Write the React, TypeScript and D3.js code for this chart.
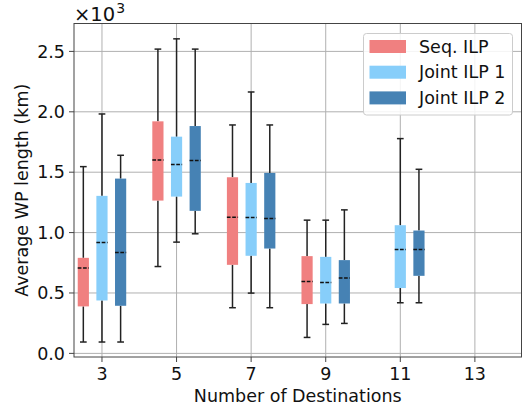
import React from "react";
import * as d3 from "d3";

const categories = [3, 5, 7, 9, 11, 13];
const seriesNames = ["Seq. ILP", "Joint ILP 1", "Joint ILP 2"];
const seriesColors = ["#F08080", "#87CEFA", "#4682B4"];
const seriesOffsets = [-0.5, 0, 0.5];

// values in km, per category: [whiskerLow, q1, median, q3, whiskerHigh]
const seqLow = [94, 719, 378, 132, null, null];
const seqQ1 = [389, 1265, 733, 408, null, null];
const seqMed = [706, 1601, 1128, 595, null, null];
const seqQ3 = [791, 1921, 1458, 805, null, null];
const seqHigh = [1546, 2519, 1891, 1103, null, null];

const j1Low = [94, 921, 499, 240, 419, null];
const j1Q1 = [438, 1298, 808, 413, 541, null];
const j1Med = [918, 1563, 1124, 587, 860, null];
const j1Q3 = [1304, 1794, 1411, 799, 1061, null];
const j1High = [1982, 2604, 2164, 1103, 1778, null];

const j2Low = [94, 990, 378, 248, 419, null];
const j2Q1 = [394, 1180, 868, 413, 642, null];
const j2Med = [835, 1596, 1116, 623, 860, null];
const j2Q3 = [1447, 1882, 1494, 772, 1017, null];
const j2High = [1640, 2519, 1891, 1188, 1524, null];

const yTicks = [0, 500, 1000, 1500, 2000, 2500];
const yTickLabels = ["0.0", "0.5", "1.0", "1.5", "2.0", "2.5"];
const xTickLabels = ["3", "5", "7", "9", "11", "13"];

const seriesData = [
  [seqLow, seqQ1, seqMed, seqQ3, seqHigh],
  [j1Low, j1Q1, j1Med, j1Q3, j1High],
  [j2Low, j2Q1, j2Med, j2Q3, j2High],
];

const W = 524;
const H = 410;
const margin = { left: 74, right: 2.5, top: 23.5, bottom: 53 };
const font = "DejaVu Sans, sans-serif";
const fs = 17.5;

export default function App() {
  const x = d3.scaleLinear().domain([2.25, 14.25]).range([margin.left, W - margin.right]);
  const y = d3.scaleLinear().domain([-30, 2731]).range([H - margin.bottom, margin.top]);
  const boxW = 0.3;
  const capW = 0.18;
  const pxBox = x(boxW) - x(0);
  const pxCap = x(capW) - x(0);

  const x0 = margin.left;
  const x1 = W - margin.right;
  const y0 = H - margin.bottom;
  const y1 = margin.top;

  return (
    <svg width={W} height={H} style={{ position: "absolute", left: 0, top: 0, background: "#fff" }} fontFamily={font}>
      <rect x={0} y={0} width={W} height={H} fill="#fff" />
      {/* grid */}
      {yTicks.map((t) => (
        <line key={"gy" + t} x1={x0} x2={x1} y1={y(t)} y2={y(t)} stroke="#b0b0b0" strokeWidth={1} />
      ))}
      {categories.map((c) => (
        <line key={"gx" + c} x1={x(c)} x2={x(c)} y1={y0} y2={y1} stroke="#b0b0b0" strokeWidth={1} />
      ))}
      {/* boxes */}
      {seriesData.map((s, si) =>
        categories.map((c, ci) => {
          const [lo, q1, med, q3, hi] = s.map((a) => a[ci]);
          if (lo == null) return null;
          const cx = x(c + seriesOffsets[si]);
          return (
            <g key={"b" + si + "-" + ci}>
              <line x1={cx} x2={cx} y1={y(lo)} y2={y(q1)} stroke="#222" strokeWidth={1.5} />
              <line x1={cx} x2={cx} y1={y(q3)} y2={y(hi)} stroke="#222" strokeWidth={1.5} />
              <line x1={cx - pxCap / 2} x2={cx + pxCap / 2} y1={y(lo)} y2={y(lo)} stroke="#222" strokeWidth={1.5} />
              <line x1={cx - pxCap / 2} x2={cx + pxCap / 2} y1={y(hi)} y2={y(hi)} stroke="#222" strokeWidth={1.5} />
              <rect x={cx - pxBox / 2} y={y(q3)} width={pxBox} height={y(q1) - y(q3)} fill={seriesColors[si]} />
              <line x1={cx - pxBox / 2} x2={cx + pxBox / 2} y1={y(med)} y2={y(med)} stroke="#111" strokeWidth={1.5} strokeDasharray="3.7,1.6" />
            </g>
          );
        })
      )}
      {/* spines */}
      <rect x={x0} y={y1} width={x1 - x0} height={y0 - y1} fill="none" stroke="#444" strokeWidth={1} />
      {/* y ticks */}
      {yTicks.map((t, i) => (
        <g key={"yt" + t}>
          <line x1={x0 - 5} x2={x0} y1={y(t)} y2={y(t)} stroke="#444" strokeWidth={1} />
          <text x={x0 - 9} y={y(t)} dy="0.35em" textAnchor="end" fontSize={fs} fill="#111">{yTickLabels[i]}</text>
        </g>
      ))}
      {/* x ticks */}
      {categories.map((c, i) => (
        <g key={"xt" + c}>
          <line x1={x(c)} x2={x(c)} y1={y0} y2={y0 + 5} stroke="#444" strokeWidth={1} />
          <text x={x(c)} y={y0 + 23} textAnchor="middle" fontSize={fs} fill="#111">{xTickLabels[i]}</text>
        </g>
      ))}
      <text x={(x0 + x1) / 2} y={402} textAnchor="middle" fontSize={fs} fill="#111">Number of Destinations</text>
      <text transform={`translate(22,${(y0 + y1) / 2}) rotate(-90)`} textAnchor="middle" dy="0.35em" fontSize={fs} fill="#111">Average WP length (km)</text>
      <text x={74} y={21} fontSize={19.5} fill="#111">
        ×10<tspan dx={1} dy={-8.5} fontSize={14}>3</tspan>
      </text>
      {/* legend */}
      <g>
        <rect x={363.5} y={33.5} width={149} height={81.5} rx={3} fill="#fff" fillOpacity={0.85} stroke="#ccc" strokeWidth={1} />
        {seriesNames.map((n, i) => (
          <g key={"lg" + n}>
            <rect x={369.5} y={40 + i * 25.7} width={36.5} height={13} fill={seriesColors[i]} />
            <text x={419} y={46.5 + i * 25.7} dy="0.35em" fontSize={fs} fill="#111">{n}</text>
          </g>
        ))}
      </g>
    </svg>
  );
}
